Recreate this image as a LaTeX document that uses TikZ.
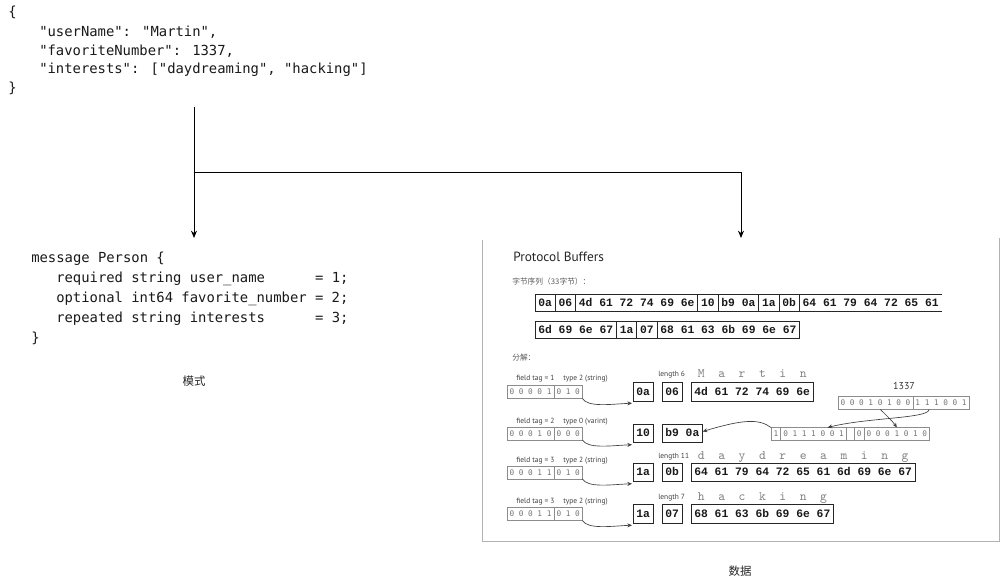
\documentclass[tikz,border=0pt]{standalone}
\usepackage{fontspec}
\usetikzlibrary{positioning,arrows.meta,calc}
\newfontfamily\codefont{DejaVu Sans Mono}
\newfontfamily\hexfont{Liberation Mono}
\newfontfamily\lettfont{Latin Modern Mono}
\newfontfamily\cjkfont{Noto Sans CJK SC}
\newfontfamily\pbfont{PT Sans}
\begin{document}
\begin{tikzpicture}[x=0.75pt,y=-0.75pt,
  code/.style={font=\codefont\fontsize{10.4}{12}\selectfont, anchor=base west, inner sep=0pt, text=black!90},
  capt/.style={font=\cjkfont\fontsize{8.6}{10}\selectfont, inner sep=0pt, text=black!85},
  mainarr/.style={draw=black, line width=0.75pt, -{Stealth[length=5.5pt,width=4.5pt]}},
  hexbox/.style={draw=black!85, line width=0.75pt, font=\hexfont\bfseries\fontsize{8.5}{10}\selectfont, text=black!90, inner xsep=2.5pt, inner ysep=0pt, outer sep=0pt, minimum height=12.75pt, text height=5.2pt, text depth=0pt, anchor=west},
  dhex/.style={hexbox, minimum height=13.8pt},
  bitbox/.style={draw=black!45, line width=0.4pt, font=\codefont\fontsize{5.8}{7}\selectfont, text=black!55, inner xsep=1.9pt, inner ysep=0pt, outer sep=0pt, minimum height=9.75pt, text height=4.2pt, text depth=0pt, anchor=west},
  lbl/.style={font=\pbfont\fontsize{5.6}{6}\selectfont, text=black!75, anchor=base west, inner sep=0pt},
  cnlbl/.style={font=\cjkfont\fontsize{5.8}{7}\selectfont, text=black!65, anchor=base west, inner sep=0pt},
  letters/.style={font=\lettfont\fontsize{9.7}{11}\selectfont, text=black!50, anchor=base west, inner sep=0pt},
  carr/.style={draw=black!75, line width=0.5pt, -{Stealth[length=3.5pt,width=3pt]}},
  panel/.style={draw=black!30, line width=0.75pt}
]
\useasboundingbox (0,0) rectangle (1001,581);

% ---------- JSON ----------
\node[code] (j1) at (8,17) {\{};
\node[code] (j2) at (39,36.5) {"userName": "Martin",};
\node[code] (j3) at (39,55.2) {"favoriteNumber": 1337,};
\node[code] (j4) at (39,74) {"interests": ["daydreaming", "hacking"]};
\node[code] (j5) at (8,93) {\}};

% ---------- schema ----------
\node[code] (s1) at (31,263) {message Person \{};
\node[code] (s2) at (56,283) {required string user\_name~~~~~~= 1;};
\node[code] (s3) at (56,303) {optional int64 favorite\_number = 2;};
\node[code] (s4) at (56,322.5) {repeated string interests~~~~~~= 3;};
\node[code] (s5) at (31,343) {\}};
\node[capt] (c1) at (194,381) {模式};

% ---------- connectors ----------
\coordinate (jsout) at (194,107);
\coordinate (split) at (194,173);
\coordinate (schemaIn) at (194,238);
\coordinate (dataIn) at (741,238);
\draw[mainarr] (jsout) -- (schemaIn);
\draw[mainarr] (split) -| (dataIn);

% ---------- data panel ----------
\draw[panel] (482,240) -- (482,541) -- (999,541) -- (999,238);
\node[font=\pbfont\fontsize{10}{12}\selectfont, anchor=base west, inner sep=0pt, text=black!85] (pbt) at (513,262) {Protocol Buffers};
\node[cnlbl] (bseq) at (512,285) {字节序列（33字节）：};
\node[cnlbl] (fj) at (512,361) {分解：};

% byte row 1
\node[hexbox] (r1a) at (535,303.5) {0a};
\node[hexbox,right=0pt of r1a] (r1b) {06};
\node[hexbox,right=0pt of r1b] (r1c) {4d 61 72 74 69 6e};
\node[hexbox,right=0pt of r1c] (r1d) {10};
\node[hexbox,right=0pt of r1d] (r1e) {b9 0a};
\node[hexbox,right=0pt of r1e] (r1f) {1a};
\node[hexbox,right=0pt of r1f] (r1g) {0b};
\node[hexbox,draw=none,right=0pt of r1g] (r1h) {64 61 79 64 72 65 61};
\draw[draw=black!85,line width=0.75pt] (r1h.north west) -- (r1h.north east) (r1h.south west) -- (r1h.south east);
% byte row 2
\node[hexbox] (r2a) at (535,330.5) {6d 69 6e 67};
\node[hexbox,right=0pt of r2a] (r2b) {1a};
\node[hexbox,right=0pt of r2b] (r2c) {07};
\node[hexbox,right=0pt of r2c] (r2d) {68 61 63 6b 69 6e 67};

% row A : user name
\node[lbl] (fa) at (516,380.5) {field tag = 1};
\node[lbl] (ta) at (563,380.5) {type 2 (string)};
\node[bitbox] (ba1) at (507,392) {0 0 0 0 1};
\node[bitbox,right=0pt of ba1] (ba2) {0 1 0};
\node[dhex] (ha1) at (633,392) {0a};
\node[dhex] (ha2) at (662,392) {06};
\node[dhex] (ha3) at (691,392) {4d 61 72 74 69 6e};
\node[lbl] (la) at (658,377) {length 6};
\node[letters] (ma) at (697.7,378) {M~~a~~r~~t~~i~~n};
\draw[carr] (ba2.south east) .. controls +(6,9) and +(-22,1) .. ($(ha1.south west)+(-1,2)$);

% row B : favorite number
\node[lbl] (fb) at (516,423) {field tag = 2};
\node[lbl] (tb) at (563,423) {type 0 (varint)};
\node[bitbox] (bb1) at (507,433.5) {0 0 0 1 0};
\node[bitbox,right=0pt of bb1] (bb2) {0 0 0};
\node[dhex] (hb1) at (633,433.5) {10};
\node[dhex] (hb2) at (662,433.5) {b9 0a};
\draw[carr] (bb2.south east) .. controls +(6,9) and +(-22,1) .. ($(hb1.south west)+(-1,2)$);
\node[font=\pbfont\fontsize{7.5}{9}\selectfont, text=black!80, inner sep=0pt] (n1337) at (904,386) {1337};
\node[bitbox] (u1) at (838,403) {0 0 0 1 0 1 0 0};
\node[bitbox,right=0pt of u1] (u2) {1 1 1 0 0 1};
\node[bitbox] (v1a) at (771,434) {1};
\node[bitbox,right=0pt of v1a] (v1b) {0 1 1 1 0 0 1};
\node[bitbox,right=0pt of v1b,minimum width=6pt] (vgap) {};
\node[bitbox,right=0pt of vgap] (v2a) {0};
\node[bitbox,right=0pt of v2a] (v2b) {0 0 0 1 0 1 0};
\draw[carr] ($(u2.south)+(-12,0)$) .. controls +(0,9) and +(40,-10) .. ($(v1b.north)+(14,0)$);
\draw[carr] ($(u1.south)+(5,0)$) .. controls +(6,6) and +(-4,-6) .. (v2b.north);
\draw[carr] (v1a.north west) .. controls +(-12,-9) and +(40,-12) .. ($(hb2.east)+(0,-2)$);

% row C : interests 1
\node[lbl] (fc) at (516,462) {field tag = 3};
\node[lbl] (tc) at (563,462) {type 2 (string)};
\node[bitbox] (bc1) at (507,472.5) {0 0 0 1 1};
\node[bitbox,right=0pt of bc1] (bc2) {0 1 0};
\node[dhex] (hc1) at (633,472.5) {1a};
\node[dhex] (hc2) at (662,472.5) {0b};
\node[dhex] (hc3) at (691,472.5) {64 61 79 64 72 65 61 6d 69 6e 67};
\node[lbl] (lc) at (658,458.5) {length 11};
\node[letters] (mc) at (697.7,459.5) {d~~a~~y~~d~~r~~e~~a~~m~~i~~n~~g};
\draw[carr] (bc2.south east) .. controls +(6,9) and +(-22,1) .. ($(hc1.south west)+(-1,2)$);

% row D : interests 2
\node[lbl] (fd) at (516,503.5) {field tag = 3};
\node[lbl] (td) at (563,503.5) {type 2 (string)};
\node[bitbox] (bd1) at (507,514) {0 0 0 1 1};
\node[bitbox,right=0pt of bd1] (bd2) {0 1 0};
\node[dhex] (hd1) at (633,514) {1a};
\node[dhex] (hd2) at (662,514) {07};
\node[dhex] (hd3) at (691,514) {68 61 63 6b 69 6e 67};
\node[lbl] (ld) at (658,499.5) {length 7};
\node[letters] (md) at (697.7,500.5) {h~~a~~c~~k~~i~~n~~g};
\draw[carr] (bd2.south east) .. controls +(6,9) and +(-22,1) .. ($(hd1.south west)+(-1,2)$);

\node[capt] (c2) at (740,571) {数据};
\end{tikzpicture}
\end{document}
